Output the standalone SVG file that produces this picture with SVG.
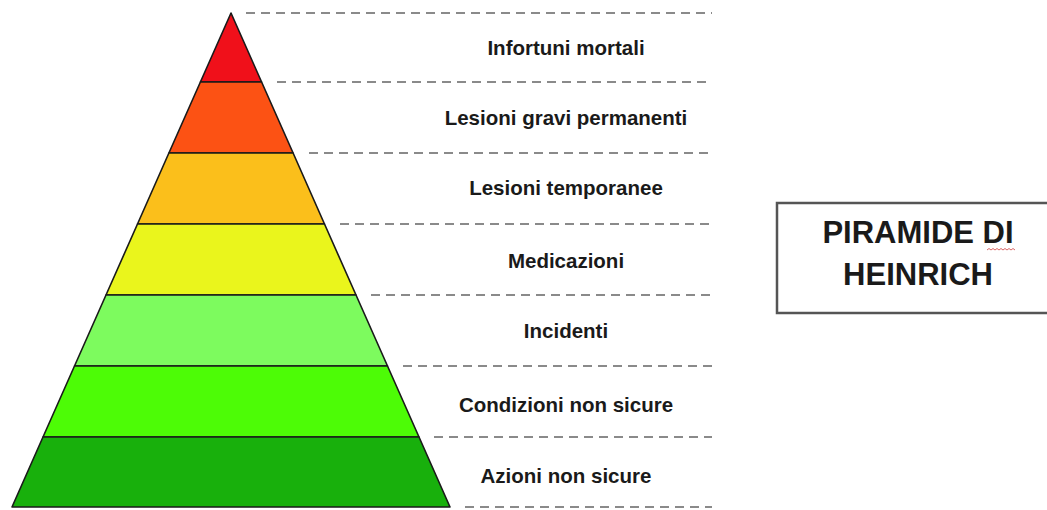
<svg xmlns="http://www.w3.org/2000/svg" width="1047" height="510" viewBox="0 0 1047 510">
<style>
.layer{stroke:#1a1a1a;stroke-width:1.6;stroke-linejoin:round}
.dash{stroke:#8a8a8a;stroke-width:2;stroke-dasharray:9 6;fill:none}
.lbl{font-family:"Liberation Sans",Arial,sans-serif;font-weight:bold;font-size:20.5px;fill:#1a1a1a;text-anchor:middle}
.title{font-family:"Liberation Sans",Arial,sans-serif;font-weight:bold;font-size:31px;fill:#1a1a1a;text-anchor:middle}
</style>
<rect width="1047" height="510" fill="#ffffff"/>
<g id="pyramid">
<g id="layer1"><polygon class="layer" fill="#f0101a" points="231,13 261.6,82 200.4,82"/></g>
<g id="layer2"><polygon class="layer" fill="#fc5214" points="200.4,82 261.6,82 293.1,153 168.9,153"/></g>
<g id="layer3"><polygon class="layer" fill="#fbbf1b" points="168.9,153 293.1,153 324.5,224 137.5,224"/></g>
<g id="layer4"><polygon class="layer" fill="#eaf51c" points="137.5,224 324.5,224 356,295 106,295"/></g>
<g id="layer5"><polygon class="layer" fill="#7dfb5e" points="106,295 356,295 387.5,366 74.5,366"/></g>
<g id="layer6"><polygon class="layer" fill="#4dfc06" points="74.5,366 387.5,366 419,437 43,437"/></g>
<g id="layer7"><polygon class="layer" fill="#18b00c" points="43,437 419,437 450,507 12,507"/></g>
</g>
<g id="connectors">
<line class="dash" x1="246" y1="13" x2="712" y2="13"/>
<line class="dash" x1="277" y1="82" x2="712" y2="82"/>
<line class="dash" x1="309" y1="153" x2="712" y2="153"/>
<line class="dash" x1="340" y1="224" x2="712" y2="224"/>
<line class="dash" x1="371" y1="295" x2="712" y2="295"/>
<line class="dash" x1="403" y1="366" x2="712" y2="366"/>
<line class="dash" x1="434" y1="437" x2="712" y2="437"/>
<line class="dash" x1="465" y1="507" x2="712" y2="507"/>
</g>
<g id="labels">
<text class="lbl" x="566" y="55">Infortuni mortali</text>
<text class="lbl" x="566" y="125">Lesioni gravi permanenti</text>
<text class="lbl" x="566" y="195">Lesioni temporanee</text>
<text class="lbl" x="566" y="268">Medicazioni</text>
<text class="lbl" x="566" y="338">Incidenti</text>
<text class="lbl" x="566" y="412">Condizioni non sicure</text>
<text class="lbl" x="566" y="483">Azioni non sicure</text>
</g>
<g id="title-box">
<rect x="777" y="203" width="290" height="110" fill="#ffffff" stroke="#555555" stroke-width="2.5"/>
<text class="title" x="918" y="243">PIRAMIDE DI</text>
<text class="title" x="918" y="285">HEINRICH</text>
<path d="M987,250 l2,-1.5 l2,1.5 l2,-1.5 l2,1.5 l2,-1.5 l2,1.5 l2,-1.5 l2,1.5 l2,-1.5 l2,1.5 l2,-1.5 l2,1.5 l2,-1.5 l2,1.5" fill="none" stroke="#d04040" stroke-width="0.8"/>
</g>
</svg>
